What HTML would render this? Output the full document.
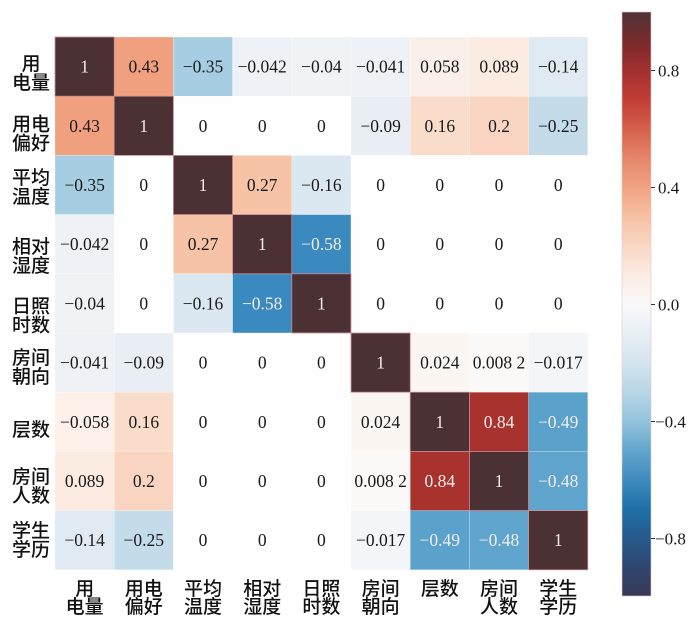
<!DOCTYPE html>
<html><head><meta charset="utf-8"><style>
html,body{margin:0;padding:0;background:#fff;}
svg{display:block;}
.n{font-family:"Liberation Serif",serif;font-size:17.5px;text-anchor:middle;fill:#1a1a1a;}
.w{fill:#f2eceb;}
.lab{font-family:"Liberation Sans","Noto Sans CJK SC",sans-serif;font-size:19px;font-weight:500;text-anchor:middle;fill:#111;}
.cb{font-family:"Liberation Serif",serif;font-size:17px;fill:#1a1a1a;}
</style></head><body>
<svg width="700" height="627" viewBox="0 0 700 627" xmlns="http://www.w3.org/2000/svg">
<defs>
<linearGradient id="g" x1="0" y1="0" x2="0" y2="1">
<stop offset="0" stop-color="#4f3437"/>
<stop offset="0.05" stop-color="#7a2a2c"/>
<stop offset="0.1" stop-color="#a23030"/>
<stop offset="0.15" stop-color="#c23d35"/>
<stop offset="0.2" stop-color="#d4604c"/>
<stop offset="0.25" stop-color="#e5846a"/>
<stop offset="0.3" stop-color="#f0a380"/>
<stop offset="0.35" stop-color="#f6c0a3"/>
<stop offset="0.4" stop-color="#f9d7c4"/>
<stop offset="0.45" stop-color="#faebe2"/>
<stop offset="0.5" stop-color="#f9f8f9"/>
<stop offset="0.55" stop-color="#e9eff5"/>
<stop offset="0.6" stop-color="#d4e5ef"/>
<stop offset="0.65" stop-color="#b8d6e7"/>
<stop offset="0.7" stop-color="#94c4dd"/>
<stop offset="0.75" stop-color="#63a6cd"/>
<stop offset="0.8" stop-color="#3f8cbf"/>
<stop offset="0.85" stop-color="#1f70a8"/>
<stop offset="0.9" stop-color="#265a8c"/>
<stop offset="0.95" stop-color="#2e4670"/>
<stop offset="1" stop-color="#383a55"/>
</linearGradient>
</defs>

<g stroke="#ffffff" stroke-width="0.4" stroke-opacity="0.6">
<!-- row 1 -->
<rect x="55" y="37" width="59.2" height="59.2" fill="#4b3134"/>
<rect x="114.2" y="37" width="59.2" height="59.2" fill="#f0a07e"/>
<rect x="173.4" y="37" width="59.2" height="59.2" fill="#a7cde2"/>
<rect x="232.6" y="37" width="59.2" height="59.2" fill="#eef2f6"/>
<rect x="291.8" y="37" width="59.2" height="59.2" fill="#eff3f6"/>
<rect x="351" y="37" width="59.2" height="59.2" fill="#eef2f6"/>
<rect x="410.2" y="37" width="59.2" height="59.2" fill="#fbf0e9"/>
<rect x="469.4" y="37" width="59.2" height="59.2" fill="#fbebe1"/>
<rect x="528.6" y="37" width="59.2" height="59.2" fill="#dfeaf2"/>
<!-- row 2 -->
<rect x="55" y="96.2" width="59.2" height="59.2" fill="#f0a07e"/>
<rect x="114.2" y="96.2" width="59.2" height="59.2" fill="#4b3134"/>
<rect x="173.4" y="96.2" width="59.2" height="59.2" fill="#fefefe"/>
<rect x="232.6" y="96.2" width="59.2" height="59.2" fill="#fefefe"/>
<rect x="291.8" y="96.2" width="59.2" height="59.2" fill="#fefefe"/>
<rect x="351" y="96.2" width="59.2" height="59.2" fill="#e8eef4"/>
<rect x="410.2" y="96.2" width="59.2" height="59.2" fill="#fadccb"/>
<rect x="469.4" y="96.2" width="59.2" height="59.2" fill="#f9d5c1"/>
<rect x="528.6" y="96.2" width="59.2" height="59.2" fill="#c4dcea"/>
<!-- row 3 -->
<rect x="55" y="155.4" width="59.2" height="59.2" fill="#a7cde2"/>
<rect x="114.2" y="155.4" width="59.2" height="59.2" fill="#fefefe"/>
<rect x="173.4" y="155.4" width="59.2" height="59.2" fill="#4b3134"/>
<rect x="232.6" y="155.4" width="59.2" height="59.2" fill="#f7c3a7"/>
<rect x="291.8" y="155.4" width="59.2" height="59.2" fill="#dce8f1"/>
<rect x="351" y="155.4" width="59.2" height="59.2" fill="#fefefe"/>
<rect x="410.2" y="155.4" width="59.2" height="59.2" fill="#fefefe"/>
<rect x="469.4" y="155.4" width="59.2" height="59.2" fill="#fefefe"/>
<rect x="528.6" y="155.4" width="59.2" height="59.2" fill="#fefefe"/>
<!-- row 4 -->
<rect x="55" y="214.6" width="59.2" height="59.2" fill="#eef2f6"/>
<rect x="114.2" y="214.6" width="59.2" height="59.2" fill="#fefefe"/>
<rect x="173.4" y="214.6" width="59.2" height="59.2" fill="#f7c3a7"/>
<rect x="232.6" y="214.6" width="59.2" height="59.2" fill="#4b3134"/>
<rect x="291.8" y="214.6" width="59.2" height="59.2" fill="#3a8abf"/>
<rect x="351" y="214.6" width="59.2" height="59.2" fill="#fefefe"/>
<rect x="410.2" y="214.6" width="59.2" height="59.2" fill="#fefefe"/>
<rect x="469.4" y="214.6" width="59.2" height="59.2" fill="#fefefe"/>
<rect x="528.6" y="214.6" width="59.2" height="59.2" fill="#fefefe"/>
<!-- row 5 -->
<rect x="55" y="273.8" width="59.2" height="59.2" fill="#eff3f6"/>
<rect x="114.2" y="273.8" width="59.2" height="59.2" fill="#fefefe"/>
<rect x="173.4" y="273.8" width="59.2" height="59.2" fill="#dce8f1"/>
<rect x="232.6" y="273.8" width="59.2" height="59.2" fill="#3a8abf"/>
<rect x="291.8" y="273.8" width="59.2" height="59.2" fill="#4b3134"/>
<rect x="351" y="273.8" width="59.2" height="59.2" fill="#fefefe"/>
<rect x="410.2" y="273.8" width="59.2" height="59.2" fill="#fefefe"/>
<rect x="469.4" y="273.8" width="59.2" height="59.2" fill="#fefefe"/>
<rect x="528.6" y="273.8" width="59.2" height="59.2" fill="#fefefe"/>
<!-- row 6 -->
<rect x="55" y="333" width="59.2" height="59.2" fill="#eef2f6"/>
<rect x="114.2" y="333" width="59.2" height="59.2" fill="#e8eef4"/>
<rect x="173.4" y="333" width="59.2" height="59.2" fill="#fefefe"/>
<rect x="232.6" y="333" width="59.2" height="59.2" fill="#fefefe"/>
<rect x="291.8" y="333" width="59.2" height="59.2" fill="#fefefe"/>
<rect x="351" y="333" width="59.2" height="59.2" fill="#4b3134"/>
<rect x="410.2" y="333" width="59.2" height="59.2" fill="#fcf6f3"/>
<rect x="469.4" y="333" width="59.2" height="59.2" fill="#fbf9f8"/>
<rect x="528.6" y="333" width="59.2" height="59.2" fill="#f4f5f8"/>
<!-- row 7 -->
<rect x="55" y="392.2" width="59.2" height="59.2" fill="#fcf0e8"/>
<rect x="114.2" y="392.2" width="59.2" height="59.2" fill="#fadccb"/>
<rect x="173.4" y="392.2" width="59.2" height="59.2" fill="#fefefe"/>
<rect x="232.6" y="392.2" width="59.2" height="59.2" fill="#fefefe"/>
<rect x="291.8" y="392.2" width="59.2" height="59.2" fill="#fefefe"/>
<rect x="351" y="392.2" width="59.2" height="59.2" fill="#fcf6f3"/>
<rect x="410.2" y="392.2" width="59.2" height="59.2" fill="#4b3134"/>
<rect x="469.4" y="392.2" width="59.2" height="59.2" fill="#a8322d"/>
<rect x="528.6" y="392.2" width="59.2" height="59.2" fill="#5aa1cb"/>
<!-- row 8 -->
<rect x="55" y="451.4" width="59.2" height="59.2" fill="#fbebe1"/>
<rect x="114.2" y="451.4" width="59.2" height="59.2" fill="#f9d5c1"/>
<rect x="173.4" y="451.4" width="59.2" height="59.2" fill="#fefefe"/>
<rect x="232.6" y="451.4" width="59.2" height="59.2" fill="#fefefe"/>
<rect x="291.8" y="451.4" width="59.2" height="59.2" fill="#fefefe"/>
<rect x="351" y="451.4" width="59.2" height="59.2" fill="#fbf9f8"/>
<rect x="410.2" y="451.4" width="59.2" height="59.2" fill="#a8322d"/>
<rect x="469.4" y="451.4" width="59.2" height="59.2" fill="#4b3134"/>
<rect x="528.6" y="451.4" width="59.2" height="59.2" fill="#5fa4cc"/>
<!-- row 9 -->
<rect x="55" y="510.6" width="59.2" height="59.2" fill="#dfeaf2"/>
<rect x="114.2" y="510.6" width="59.2" height="59.2" fill="#c4dcea"/>
<rect x="173.4" y="510.6" width="59.2" height="59.2" fill="#fefefe"/>
<rect x="232.6" y="510.6" width="59.2" height="59.2" fill="#fefefe"/>
<rect x="291.8" y="510.6" width="59.2" height="59.2" fill="#fefefe"/>
<rect x="351" y="510.6" width="59.2" height="59.2" fill="#f4f5f8"/>
<rect x="410.2" y="510.6" width="59.2" height="59.2" fill="#5aa1cb"/>
<rect x="469.4" y="510.6" width="59.2" height="59.2" fill="#5fa4cc"/>
<rect x="528.6" y="510.6" width="59.2" height="59.2" fill="#4b3134"/>
</g>
<!-- pinkish edges on dark diagonal cells -->
<g fill="none" stroke="#c98a94" stroke-width="0.8">
<rect x="55" y="37" width="59.2" height="59.2"/>
<rect x="114.2" y="96.2" width="59.2" height="59.2"/>
<rect x="173.4" y="155.4" width="59.2" height="59.2"/>
<rect x="232.6" y="214.6" width="59.2" height="59.2"/>
<rect x="291.8" y="273.8" width="59.2" height="59.2"/>
<rect x="351" y="333" width="59.2" height="59.2"/>
<rect x="410.2" y="392.2" width="59.2" height="59.2"/>
<rect x="469.4" y="451.4" width="59.2" height="59.2"/>
<rect x="528.6" y="510.6" width="59.2" height="59.2"/>
</g>

<!-- cell numbers -->
<g class="n">
<text x="84.6" y="72.6" class="n w">1</text>
<text x="143.8" y="72.6">0.43</text>
<text x="203" y="72.6">−0.35</text>
<text x="262.2" y="72.6">−0.042</text>
<text x="321.4" y="72.6">−0.04</text>
<text x="380.6" y="72.6">−0.041</text>
<text x="439.8" y="72.6">0.058</text>
<text x="499" y="72.6">0.089</text>
<text x="558.2" y="72.6">−0.14</text>

<text x="84.6" y="131.8">0.43</text>
<text x="143.8" y="131.8" class="n w">1</text>
<text x="203" y="131.8">0</text>
<text x="262.2" y="131.8">0</text>
<text x="321.4" y="131.8">0</text>
<text x="380.6" y="131.8">−0.09</text>
<text x="439.8" y="131.8">0.16</text>
<text x="499" y="131.8">0.2</text>
<text x="558.2" y="131.8">−0.25</text>

<text x="84.6" y="191">−0.35</text>
<text x="143.8" y="191">0</text>
<text x="203" y="191" class="n w">1</text>
<text x="262.2" y="191">0.27</text>
<text x="321.4" y="191">−0.16</text>
<text x="380.6" y="191">0</text>
<text x="439.8" y="191">0</text>
<text x="499" y="191">0</text>
<text x="558.2" y="191">0</text>

<text x="84.6" y="250.2">−0.042</text>
<text x="143.8" y="250.2">0</text>
<text x="203" y="250.2">0.27</text>
<text x="262.2" y="250.2" class="n w">1</text>
<text x="321.4" y="250.2" class="n w">−0.58</text>
<text x="380.6" y="250.2">0</text>
<text x="439.8" y="250.2">0</text>
<text x="499" y="250.2">0</text>
<text x="558.2" y="250.2">0</text>

<text x="84.6" y="309.4">−0.04</text>
<text x="143.8" y="309.4">0</text>
<text x="203" y="309.4">−0.16</text>
<text x="262.2" y="309.4" class="n w">−0.58</text>
<text x="321.4" y="309.4" class="n w">1</text>
<text x="380.6" y="309.4">0</text>
<text x="439.8" y="309.4">0</text>
<text x="499" y="309.4">0</text>
<text x="558.2" y="309.4">0</text>

<text x="84.6" y="368.6">−0.041</text>
<text x="143.8" y="368.6">−0.09</text>
<text x="203" y="368.6">0</text>
<text x="262.2" y="368.6">0</text>
<text x="321.4" y="368.6">0</text>
<text x="380.6" y="368.6" class="n w">1</text>
<text x="439.8" y="368.6">0.024</text>
<text x="499" y="368.6">0.008 2</text>
<text x="558.2" y="368.6">−0.017</text>

<text x="84.6" y="427.8">−0.058</text>
<text x="143.8" y="427.8">0.16</text>
<text x="203" y="427.8">0</text>
<text x="262.2" y="427.8">0</text>
<text x="321.4" y="427.8">0</text>
<text x="380.6" y="427.8">0.024</text>
<text x="439.8" y="427.8" class="n w">1</text>
<text x="499" y="427.8" class="n w">0.84</text>
<text x="558.2" y="427.8" class="n w">−0.49</text>

<text x="84.6" y="487">0.089</text>
<text x="143.8" y="487">0.2</text>
<text x="203" y="487">0</text>
<text x="262.2" y="487">0</text>
<text x="321.4" y="487">0</text>
<text x="380.6" y="487">0.008 2</text>
<text x="439.8" y="487" class="n w">0.84</text>
<text x="499" y="487" class="n w">1</text>
<text x="558.2" y="487" class="n w">−0.48</text>

<text x="84.6" y="546.2">−0.14</text>
<text x="143.8" y="546.2">−0.25</text>
<text x="203" y="546.2">0</text>
<text x="262.2" y="546.2">0</text>
<text x="321.4" y="546.2">0</text>
<text x="380.6" y="546.2">−0.017</text>
<text x="439.8" y="546.2" class="n w">−0.49</text>
<text x="499" y="546.2" class="n w">−0.48</text>
<text x="558.2" y="546.2" class="n w">1</text>
</g>

<!-- y labels -->
<g class="lab">
<text x="31" y="70">用</text><text x="31" y="89">电量</text>
<text x="31" y="130.5">用电</text><text x="31" y="149.5">偏好</text>
<text x="31" y="184">平均</text><text x="31" y="203">温度</text>
<text x="31" y="253">相对</text><text x="31" y="272">湿度</text>
<text x="31" y="312.5">日照</text><text x="31" y="331.5">时数</text>
<text x="31" y="364">房间</text><text x="31" y="383">朝向</text>
<text x="31" y="436">层数</text>
<text x="31" y="483">房间</text><text x="31" y="502">人数</text>
<text x="31" y="537">学生</text><text x="31" y="556">学历</text>
</g>

<!-- x labels -->
<g class="lab">
<text x="84.6" y="595">用</text><text x="84.6" y="613">电量</text>
<text x="143.8" y="595">用电</text><text x="143.8" y="613">偏好</text>
<text x="203" y="595">平均</text><text x="203" y="613">温度</text>
<text x="262.2" y="595">相对</text><text x="262.2" y="613">湿度</text>
<text x="321.4" y="595">日照</text><text x="321.4" y="613">时数</text>
<text x="380.6" y="595">房间</text><text x="380.6" y="613">朝向</text>
<text x="439.8" y="595">层数</text>
<text x="499" y="595">房间</text><text x="499" y="613">人数</text>
<text x="558.2" y="595">学生</text><text x="558.2" y="613">学历</text>
</g>

<!-- colorbar -->
<rect x="622" y="12" width="29" height="584" fill="url(#g)" stroke="#e8c8cc" stroke-width="0.6"/>
<g stroke="#333" stroke-width="1">
<line x1="651" y1="70.5" x2="655" y2="70.5"/>
<line x1="651" y1="187.5" x2="655" y2="187.5"/>
<line x1="651" y1="304.5" x2="655" y2="304.5"/>
<line x1="651" y1="421.5" x2="655" y2="421.5"/>
<line x1="651" y1="538.5" x2="655" y2="538.5"/>
</g>
<g class="cb">
<text x="658" y="76.5">0.8</text>
<text x="658" y="193.5">0.4</text>
<text x="658" y="310.5">0.0</text>
<text x="655" y="427.5">−0.4</text>
<text x="655" y="544.5">−0.8</text>
</g>
</svg>
</body></html>
